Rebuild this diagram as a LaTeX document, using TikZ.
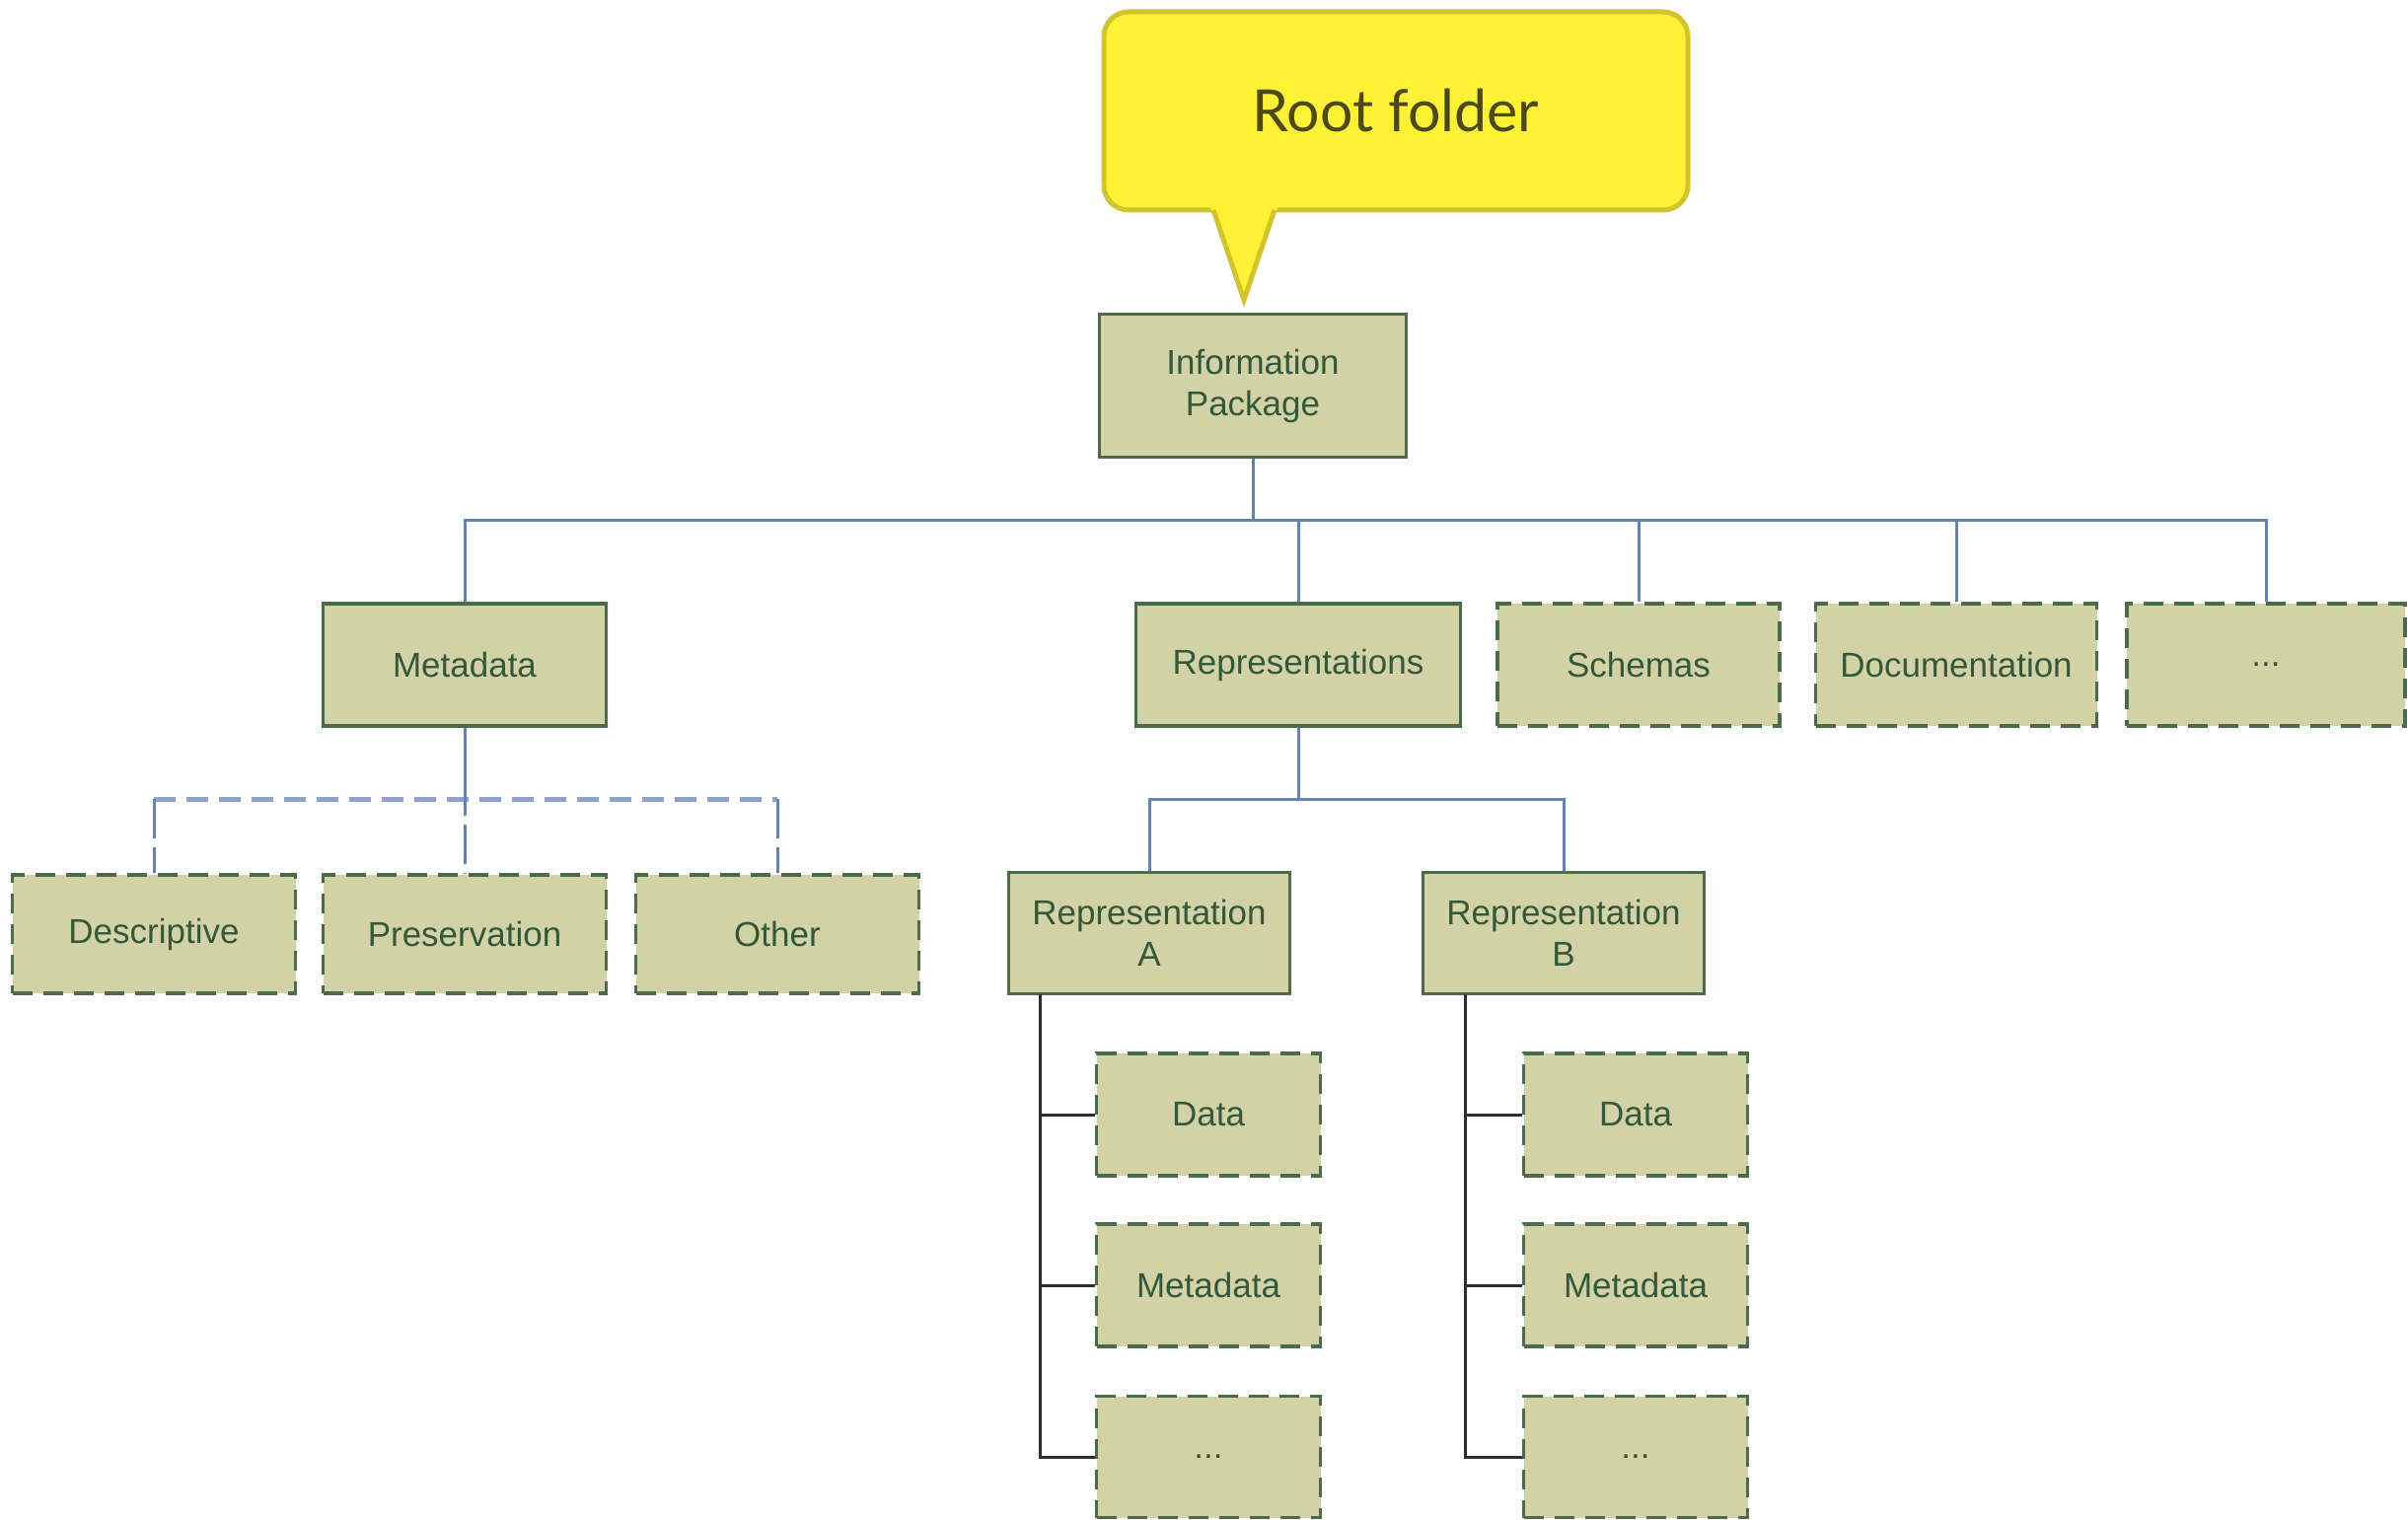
\documentclass[tikz,border=0pt]{standalone}
\usepackage{fontspec}
\setmainfont{Liberation Sans}
\newfontfamily\calloutfont{Lato}
\definecolor{boxfill}{HTML}{D3D2A7}
\definecolor{boxedge}{HTML}{4B6C4B}
\definecolor{boxtext}{HTML}{33593A}
\definecolor{linkblue}{HTML}{6482B8}
\definecolor{buslight}{HTML}{8EA2CB}
\definecolor{treeblack}{HTML}{2E2E2E}
\definecolor{calloutfill}{HTML}{FFF236}
\definecolor{calloutedge}{HTML}{D2C42C}
\definecolor{callouttext}{HTML}{4C4912}
\begin{document}
\begin{tikzpicture}[x=1pt,y=-1pt,
  folder/.style={draw=boxedge, fill=boxfill, line width=3.5pt, text=boxtext,
    font=\fontsize{35}{42}\selectfont, align=center, inner sep=0pt},
  optional/.style={folder, dash pattern=on 20pt off 11pt},
  wide/.style={minimum width=287pt, minimum height=124pt},
  leaf/.style={minimum width=227pt, minimum height=124pt},
  link/.style={draw=linkblue, line width=3pt},
  dlink/.style={link, dash pattern=on 40pt off 9pt},
  dbus/.style={draw=buslight, line width=5pt, dash pattern=on 22pt off 11pt},
  tree/.style={draw=treeblack, line width=3pt}]
\useasboundingbox (0,0) rectangle (2441,1541);

% callout
\node[draw=calloutedge, fill=calloutfill, line width=5pt, rounded corners=25pt,
  minimum width=592pt, minimum height=201pt, text=callouttext,
  font=\calloutfont\fontsize{59}{66}\selectfont] (root) at (1415,112.5) {Root folder};
\coordinate (tip) at (1261,304);
\fill[calloutfill] (1227,210) -- (1295,210) -- (tip) -- cycle;
\draw[calloutedge, line width=5pt, line join=miter] (1230,213) -- (tip) -- (1292,213);

% top level
\node[folder, minimum width=311pt, minimum height=145pt] (ip) at (1270,391) {Information\\Package};

\node[folder, wide] (meta) at (471,674) {Metadata};
\node[folder, minimum width=329pt, minimum height=124pt] (reps) at (1316,674) {Representations};
\node[optional, wide, minimum width=286pt] (schemas) at (1661,674) {Schemas};
\node[optional, wide, minimum width=285pt] (docs) at (1983,674) {Documentation};
\node[optional, wide, minimum width=282pt] (more) at (2297,674) {...};

\draw[link] (ip.south) -- ++(0,62) coordinate (hub);
\draw[link] (meta.north) |- (hub) -| (more.north);
\draw[link] (reps.north) -- (reps.north |- hub);
\draw[link] (schemas.north) -- (schemas.north |- hub);
\draw[link] (docs.north) -- (docs.north |- hub);

% metadata sub-folders
\node[optional, wide, minimum height=120pt] (desc) at (156,947) {Descriptive};
\node[optional, wide, minimum height=120pt] (pres) at (471,947) {Preservation};
\node[optional, wide, minimum height=120pt] (other) at (788,947) {Other};

\coordinate (mbus) at (471,810);
\draw[dbus] (desc.north |- mbus) -- (other.north |- mbus);
\draw[link] (meta.south) -- ++(0,50);
\draw[dlink] (meta.south) -- (pres.north);
\draw[dlink] (desc.north |- mbus) -- (desc.north);
\draw[dlink] (other.north |- mbus) -- (other.north);

% representations
\node[folder, minimum width=285pt, minimum height=123pt] (repA) at (1165,946) {Representation\\A};
\node[folder, minimum width=285pt, minimum height=123pt] (repB) at (1585,946) {Representation\\B};
\coordinate (rbus) at (1316,810);
\draw[link] (reps.south) -- (rbus);
\draw[link] (repA.north) |- (rbus) -| (repB.north);

\node[optional, leaf] (dA) at (1225,1130) {Data};
\node[optional, leaf] (mA) at (1225,1303) {Metadata};
\node[optional, leaf, minimum height=123pt] (xA) at (1225,1477) {...};
\node[optional, leaf] (dB) at (1658,1130) {Data};
\node[optional, leaf] (mB) at (1658,1303) {Metadata};
\node[optional, leaf, minimum height=123pt] (xB) at (1658,1477) {...};

\coordinate (spineA) at (1054,1008);
\coordinate (spineB) at (1485,1008);
\draw[tree] (spineA) |- (dA.west);
\draw[tree] (spineA) |- (mA.west);
\draw[tree] (spineA) |- (xA.west);
\draw[tree] (spineB) |- (dB.west);
\draw[tree] (spineB) |- (mB.west);
\draw[tree] (spineB) |- (xB.west);
\end{tikzpicture}
\end{document}
